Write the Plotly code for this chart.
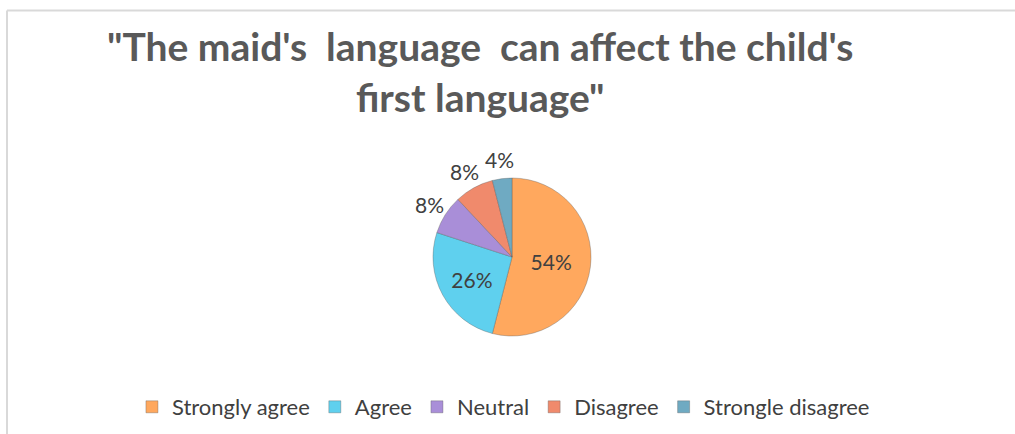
import math
import plotly.graph_objects as go

# Survey responses
categories = ["Strongly agree", "Agree", "Neutral", "Disagree", "Strongle disagree"]
shares = [54, 26, 8, 8, 4]
slice_colors = ["#FFA85E", "#5FD0EE", "#A98ED8", "#F08A6C", "#6FAAC2"]
inside = [True, True, False, False, False]

W, H = 1015, 434
cx, cy, r = 512, 257, 79
label_font = dict(family="Lato", size=21, color="#404040")

fig = go.Figure(
    go.Pie(
        labels=categories,
        values=shares,
        sort=False,
        direction="clockwise",
        rotation=0,
        marker=dict(colors=slice_colors, line=dict(color="rgba(90,90,90,0.45)", width=0.8)),
        text=[f"{v}%" if ins else "" for v, ins in zip(shares, inside)],
        texttemplate="%{text}",
        textposition="inside",
        insidetextorientation="horizontal",
        textfont=label_font,
        hoverinfo="label+percent",
        domain=dict(x=[(cx - r) / W, (cx + r) / W], y=[(H - cy - r) / H, (H - cy + r) / H]),
    )
)

# Small slices get their labels just outside the rim, on the slice's mid-angle
annotations = []
total = sum(shares)
cum = 0
for v, ins in zip(shares, inside):
    mid = (cum + v / 2) / total * 2 * math.pi  # clockwise from 12 o'clock
    cum += v
    if ins:
        continue
    lr = r + 19
    px = cx + lr * math.sin(mid)
    py = cy - lr * math.cos(mid)
    annotations.append(dict(
        text=f"{v}%", x=px / W, y=1 - py / H, xref="paper", yref="paper",
        xanchor="center", yanchor="middle", showarrow=False, font=label_font,
    ))

annotations.append(dict(
    text="\"The maid's\u00a0 language\u00a0 can affect the child's<br>first language\"",
    x=480 / W,
    y=1 - 71 / H,
    xref="paper",
    yref="paper",
    xanchor="center",
    yanchor="middle",
    showarrow=False,
    align="center",
    font=dict(family="Lato", size=39, color="#595959", weight="bold"),
))

fig.update_layout(
    width=W,
    height=H,
    margin=dict(l=0, r=0, t=0, b=0),
    paper_bgcolor="white",
    plot_bgcolor="white",
    showlegend=True,
    legend=dict(
        orientation="h",
        x=0.130,
        xanchor="left",
        y=(H - 407) / H,
        yanchor="middle",
        font=dict(family="Lato", size=22, color="#404040"),
        itemwidth=30,
        traceorder="normal",
    ),
    annotations=annotations,
    shapes=[
        dict(type="line", xref="paper", yref="paper", x0=7 / W, x1=1, y0=1 - 10.5 / H, y1=1 - 10.5 / H,
             line=dict(color="#D9D9D9", width=2)),
        dict(type="line", xref="paper", yref="paper", x0=7 / W, x1=7 / W, y0=0, y1=1 - 10.5 / H,
             line=dict(color="#D9D9D9", width=2)),
    ],
)

fig.write_html("out.html")
